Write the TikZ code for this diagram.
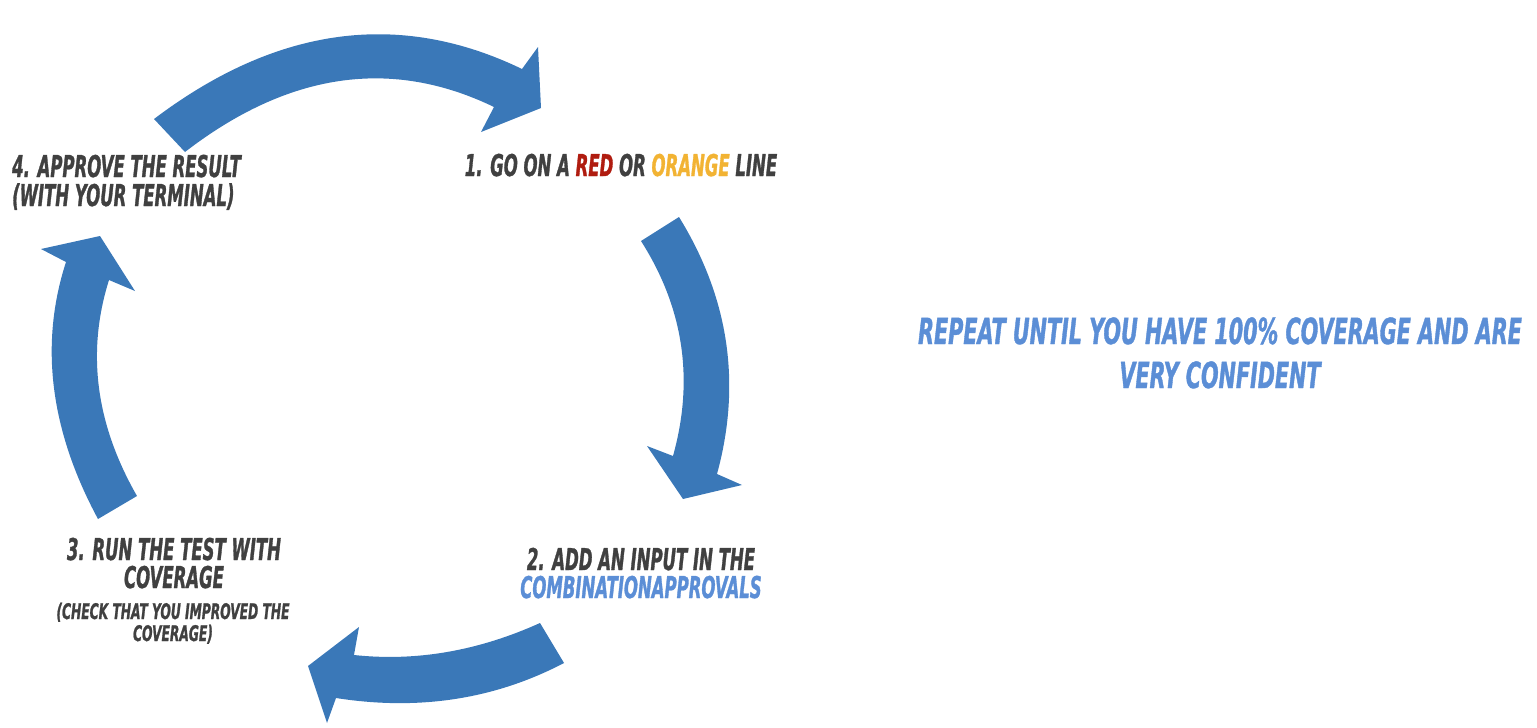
\documentclass[tikz,border=0pt]{standalone}
\usepackage{fontspec}
\newfontfamily\bang[FakeStretch=0.55,FakeBold=1]{DejaVu Sans}
\newfontfamily\bangwide[FakeStretch=0.575,FakeBold=1]{DejaVu Sans}
\newfontfamily\bangsmall[FakeStretch=0.57,FakeBold=1]{DejaVu Sans}
\definecolor{arrowblue}{HTML}{3A78B8}
\definecolor{txtgray}{HTML}{404040}
\definecolor{linkblue}{HTML}{5B8ED6}
\definecolor{redline}{HTML}{B01C10}
\definecolor{orangeline}{HTML}{F2B333}
\tikzset{
  blockarrow/.style={fill=arrowblue, draw=none},
  lbl/.style={inner sep=0pt, text=txtgray, font=\bang\bfseries\itshape\fontsize{30}{30}\selectfont},
  smalllbl/.style={inner sep=0pt, text=txtgray, font=\bangsmall\bfseries\itshape\fontsize{21.5}{21.5}\selectfont},
  biglbl/.style={inner sep=0pt, text=linkblue, font=\bangwide\bfseries\itshape\fontsize{36}{36}\selectfont},
}
\begin{document}
\begin{tikzpicture}[x=1pt,y=-1pt]
\useasboundingbox (0,0) rectangle (1537,728);
% top arrow (4 -> 1)
\fill[blockarrow] (154,119) .. controls (276.7,26.3) and (399.3,9.7) .. (522,69) -- (538,47) -- (541,108) -- (481,132) -- (494,107) .. controls (391.3,57.3) and (288.3,72.3) .. (185,152) -- cycle;
% right arrow (1 -> 2)
\fill[blockarrow] (679,217) .. controls (729,298) and (741.7,383.7) .. (717,474) -- (742,485) -- (683,499) -- (647,446) -- (673,456) .. controls (694.3,379.7) and (683.7,308) .. (641,241) -- cycle;
% bottom arrow (2 -> 3)
\fill[blockarrow] (540,623) .. controls (478,651) and (416,661.7) .. (354,655) -- (359,627) -- (308,666) -- (327,723) -- (336,698) .. controls (418.7,711) and (494.7,699.3) .. (564,663) -- cycle;
% left arrow (3 -> 4)
\fill[blockarrow] (98,519) .. controls (50,430) and (39.3,344.3) .. (66,262) -- (41,249) -- (100,236) -- (135,291) -- (109,280) .. controls (86.3,352) and (95.7,424) .. (137,496) -- cycle;

% labels
\node[lbl, anchor=base west] (s4a) at (12,177) {4. APPROVE THE RESULT};
\node[lbl, anchor=base west] (s4b) at (12,206) {(WITH YOUR TERMINAL)};
\node[lbl, anchor=base] (s1) at (621,176) {1. GO ON A \textcolor{redline}{RED} OR \textcolor{orangeline}{ORANGE} LINE};
\node[lbl, anchor=base] (s2a) at (641,570) {2. ADD AN INPUT IN THE};
\node[lbl, anchor=base, text=linkblue] (s2b) at (641,598) {COMBINATIONAPPROVALS};
\node[lbl, anchor=base] (s3a) at (174,560) {3. RUN THE TEST WITH};
\node[lbl, anchor=base] (s3b) at (174,588) {COVERAGE};
\node[smalllbl, anchor=base] (s3c) at (173,619) {(CHECK THAT YOU IMPROVED THE};
\node[smalllbl, anchor=base] (s3d) at (173,641) {COVERAGE)};
\node[biglbl, anchor=base] (rep1) at (1220,344) {REPEAT UNTIL YOU HAVE 100\% COVERAGE AND ARE};
\node[biglbl, anchor=base] (rep2) at (1220,388) {VERY CONFIDENT};
\end{tikzpicture}
\end{document}
